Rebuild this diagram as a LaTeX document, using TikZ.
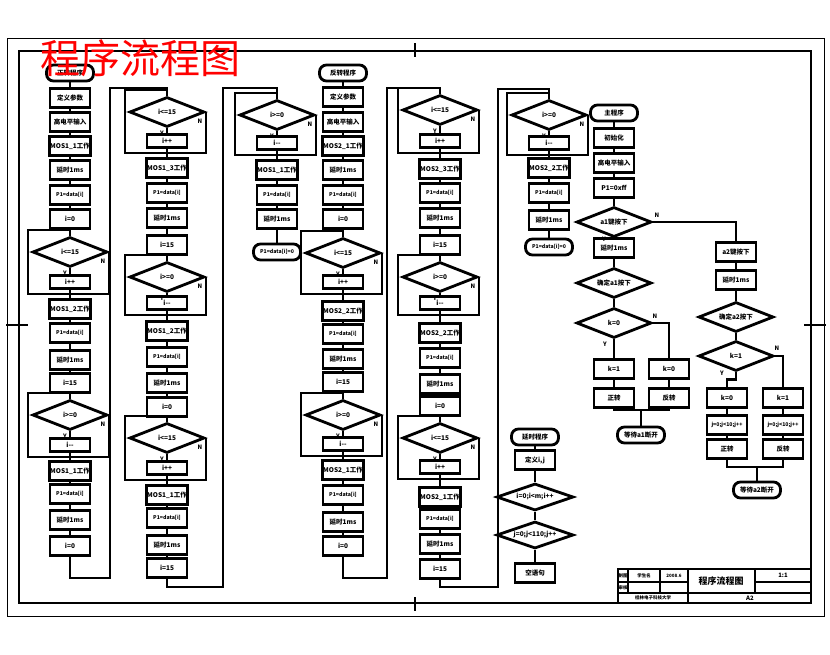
\documentclass[tikz,border=0pt]{standalone}
\usepackage{fontspec}
\setmainfont{Noto Sans CJK SC}
\usetikzlibrary{shapes.geometric}
\newcommand\bxf{\fontsize{6.5}{7}\selectfont\bfseries}
\newcommand\smf{\fontsize{5.2}{6}\selectfont\bfseries}
\newcommand\lbf{\fontsize{6}{6}\selectfont\bfseries}
\newcommand\tbf{\fontsize{4.5}{5}\selectfont\bfseries}
\tikzset{
 bx/.style={rectangle,draw,line width=2.8pt,minimum width=40pt,minimum height=19pt,inner sep=1pt,font=\bxf},
 sbx/.style={bx,minimum height=13pt},
 dia/.style={diamond,draw,line width=2.8pt,minimum width=75pt,minimum height=30pt,aspect=2.5,inner sep=0pt,font=\bxf},
 term/.style={rectangle,rounded corners=7pt,draw,line width=2.8pt,minimum width=47pt,minimum height=16pt,inner sep=1pt,font=\bxf},
 ln/.style={line width=2.2pt},
 lbl/.style={font=\lbf,inner sep=0pt},
 tb/.style={font=\tbf,inner sep=0pt},
}
\newcommand\mkloop[3]{%
 \draw[ln] (#1)--(#2)--(#3);
 \coordinate (#1j) at ([yshift=-4pt]#2.south);
 \draw[ln] (#1j) -| ([xshift=-3pt]#1.west) |- ([yshift=6pt]#1.north) -- (#1.north);
 \draw[ln] (#1.east) |- (#1j);
 \node[lbl] (#1y) at ([xshift=-5pt,yshift=-5pt]#1.south) {Y};
 \node[lbl] (#1n) at ([xshift=-6pt,yshift=-9pt]#1.east) {N};
}
\begin{document}
\begin{tikzpicture}[x=1pt,y=-1pt]
\useasboundingbox (0,0) rectangle (830,654);
% frame
\draw[line width=0.8pt] (7,38) rectangle (824,616);
\draw[line width=2.8pt] (19,51) rectangle (811,603);
\draw[line width=2.8pt] (415,43)--(415,57) (415,597)--(415,611) (6,325)--(28,325) (804,325)--(826,325);

% ---------- column 1 ----------
\node[term] (t1) at (70,73) {正转程序};
\node[bx] (a1) at (70,98) {定义参数};
\node[bx] (a2) at (70,122) {高电平输入};
\node[bx] (a3) at (70,146) {MOS1\_1工作};
\node[bx] (a4) at (70,170) {延时1ms};
\node[bx,font=\smf] (a5) at (70,195) {P1=data[i]};
\node[bx] (a6) at (70,219) {i=0};
\node[dia] (d1) at (70,252) {i<=15};
\node[sbx] (a7) at (70,282) {i++};
\node[bx] (a8) at (70,309) {MOS1\_2工作};
\node[bx,font=\smf] (a9) at (70,333) {P1=data[i]};
\node[bx] (a10) at (70,360) {延时1ms};
\node[bx] (a11) at (70,383) {i=15};
\node[dia] (d2) at (70,415) {i>=0};
\node[sbx] (a12) at (70,445) {i-{}-};
\node[bx] (a13) at (70,471) {MOS1\_1工作};
\node[bx,font=\smf] (a14) at (70,494) {P1=data[i]};
\node[bx] (a15) at (70,520) {延时1ms};
\node[bx] (a16) at (70,546) {i=0};
\draw[ln] (t1)--(a1)--(a2)--(a3)--(a4)--(a5)--(a6)--(d1);
\mkloop{d1}{a7}{a8}
\draw[ln] (a8)--(a9)--(a10)--(a11)--(d2);
\mkloop{d2}{a12}{a13}
\draw[ln] (a13)--(a14)--(a15)--(a16);

% ---------- column 2 ----------
\node[dia] (d3) at (167,112) {i<=15};
\node[sbx] (b1) at (167,141) {i++};
\node[bx] (b2) at (167,168) {MOS1\_3工作};
\node[bx,font=\smf] (b3) at (167,193) {P1=data[i]};
\node[bx] (b4) at (167,218) {延时1ms};
\node[bx] (b5) at (167,245) {i=15};
\node[dia] (d4) at (167,277) {i>=0};
\node[sbx] (b6) at (167,303) {i-{}-};
\node[bx] (b7) at (167,331) {MOS1\_2工作};
\node[bx,font=\smf] (b8) at (167,357) {P1=data[i]};
\node[bx] (b9) at (167,383) {延时1ms};
\node[bx] (b10) at (167,407) {i=0};
\node[dia] (d5) at (167,438) {i<=15};
\node[sbx] (b11) at (167,468) {i++};
\node[bx] (b12) at (167,495) {MOS1\_1工作};
\node[bx,font=\smf] (b13) at (167,518) {P1=data[i]};
\node[bx] (b14) at (167,545) {延时1ms};
\node[bx] (b15) at (167,568) {i=15};
\mkloop{d3}{b1}{b2}
\draw[ln] (b2)--(b3)--(b4)--(b5)--(d4);
\mkloop{d4}{b6}{b7}
\draw[ln] (b7)--(b8)--(b9)--(b10)--(d5);
\mkloop{d5}{b11}{b12}
\draw[ln] (b12)--(b13)--(b14)--(b15);
\coordinate (T1b) at (110,578); \coordinate (T1t) at (110,88);
\draw[ln] (a16.south) |- (T1b) -- (T1t) -| (d3.north);

% ---------- column 3 ----------
\node[dia] (d6) at (277,115) {i>=0};
\node[sbx] (c1) at (277,143) {i-{}-};
\node[bx] (c2) at (277,170) {MOS1\_1工作};
\node[bx,font=\smf] (c3) at (277,195) {P1=data[i]};
\node[bx] (c4) at (277,219) {延时1ms};
\node[term,font=\smf] (c5) at (277,252) {P1=data[i]=0};
\mkloop{d6}{c1}{c2}
\draw[ln] (c2)--(c3)--(c4)--(c5);
\coordinate (T2b) at (223,587); \coordinate (T2t) at (223,88);
\draw[ln] (b15.south) |- (T2b) -- (T2t) -| (d6.north);

% ---------- column 4 ----------
\node[term] (t2) at (343,73) {反转程序};
\node[bx] (e1) at (343,97) {定义参数};
\node[bx] (e2) at (343,122) {高电平输入};
\node[bx] (e3) at (343,146) {MOS2\_1工作};
\node[bx] (e4) at (343,170) {延时1ms};
\node[bx,font=\smf] (e5) at (343,195) {P1=data[i]};
\node[bx] (e6) at (343,219) {i=0};
\node[dia] (d7) at (343,253) {i<=15};
\node[sbx] (e7) at (343,282) {i++};
\node[bx] (e8) at (343,311) {MOS2\_2工作};
\node[bx,font=\smf] (e9) at (343,334) {P1=data[i]};
\node[bx] (e10) at (343,359) {延时1ms};
\node[bx] (e11) at (343,382) {i=15};
\node[dia] (d8) at (343,415) {i>=0};
\node[sbx] (e12) at (343,444) {i-{}-};
\node[bx] (e13) at (343,470) {MOS2\_1工作};
\node[bx,font=\smf] (e14) at (343,495) {P1=data[i]};
\node[bx] (e15) at (343,522) {延时1ms};
\node[bx] (e16) at (343,546) {i=0};
\draw[ln] (t2)--(e1)--(e2)--(e3)--(e4)--(e5)--(e6)--(d7);
\mkloop{d7}{e7}{e8}
\draw[ln] (e8)--(e9)--(e10)--(e11)--(d8);
\mkloop{d8}{e12}{e13}
\draw[ln] (e13)--(e14)--(e15)--(e16);

% ---------- column 5 ----------
\node[dia] (d9) at (440,110) {i<=15};
\node[sbx] (f1) at (440,141) {i++};
\node[bx] (f2) at (440,169) {MOS2\_3工作};
\node[bx,font=\smf] (f3) at (440,193) {P1=data[i]};
\node[bx] (f4) at (440,218) {延时1ms};
\node[bx] (f5) at (440,245) {i=15};
\node[dia] (d10) at (440,277) {i>=0};
\node[sbx] (f6) at (440,303) {i-{}-};
\node[bx] (f7) at (440,333) {MOS2\_2工作};
\node[bx,font=\smf] (f8) at (440,358) {P1=data[i]};
\node[bx] (f9) at (440,384) {延时1ms};
\node[bx] (f10) at (440,406) {i=0};
\node[dia] (d11) at (440,438) {i<=15};
\node[sbx] (f11) at (440,467) {i++};
\node[bx] (f12) at (440,497) {MOS2\_1工作};
\node[bx,font=\smf] (f13) at (440,519) {P1=data[i]};
\node[bx] (f14) at (440,544) {延时1ms};
\node[bx] (f15) at (440,569) {i=15};
\mkloop{d9}{f1}{f2}
\draw[ln] (f2)--(f3)--(f4)--(f5)--(d10);
\mkloop{d10}{f6}{f7}
\draw[ln] (f7)--(f8)--(f9)--(f10)--(d11);
\mkloop{d11}{f11}{f12}
\draw[ln] (f12)--(f13)--(f14)--(f15);
\coordinate (T3b) at (387,578); \coordinate (T3t) at (387,88);
\draw[ln] (e16.south) |- (T3b) -- (T3t) -| (d9.north);

% ---------- column 6 ----------
\node[dia] (d12) at (549,115) {i>=0};
\node[sbx] (g1) at (549,143) {i-{}-};
\node[bx] (g2) at (549,168) {MOS2\_2工作};
\node[bx,font=\smf] (g3) at (549,193) {P1=data[i]};
\node[bx] (g4) at (549,220) {延时1ms};
\node[term,font=\smf] (g5) at (549,247) {P1=data[i]=0};
\mkloop{d12}{g1}{g2}
\draw[ln] (g2)--(g3)--(g4)--(g5);
\coordinate (T4b) at (498,587); \coordinate (T4t) at (498,89);
\draw[ln] (f15.south) |- (T4b) -- (T4t) -| (d12.north);

% ---------- delay program ----------
\node[term] (h0) at (535,437) {延时程序};
\node[bx] (h1) at (535,460) {定义i,j};
\node[dia,minimum width=77pt,minimum height=27pt] (hd1) at (535,497) {i=0;i<m;i++};
\node[dia,minimum width=77pt,minimum height=27pt] (hd2) at (535,535) {j=0;j<110;j++};
\node[bx] (h2) at (535,573) {空语句};
\draw[ln] (h0)--(h1)--(hd1)--(hd2)--(h2);

% ---------- main program ----------
\node[term] (m0) at (614,113) {主程序};
\node[bx] (m1) at (614,138) {初始化};
\node[bx] (m2) at (614,163) {高电平输入};
\node[bx] (m3) at (614,188) {P1=0xff};
\node[dia] (md1) at (614,222) {a1键按下};
\node[bx] (m4) at (614,248) {延时1ms};
\node[dia] (md2) at (614,283) {确定a1按下};
\node[dia] (md3) at (614,323) {k=0};
\node[bx] (m5) at (614,369) {k=1};
\node[bx] (m6) at (669,369) {k=0};
\node[bx] (m7) at (614,398) {正转};
\node[bx] (m8) at (669,398) {反转};
\coordinate (mj) at (641,410);
\node[term] (m9) at (641,435) {等待a1断开};
\draw[ln] (m0)--(m1)--(m2)--(m3)--(md1)--(m4)--(md2)--(md3)--(m5)--(m7);
\draw[ln] (md3.east) -| (m6.north);
\draw[ln] (m6)--(m8);
\draw[ln] (m7.south) |- (mj);
\draw[ln] (m8.south) |- (mj);
\draw[ln] (mj) -- (m9.north);
\node[lbl] (md1n) at (657,215) {N};
\node[lbl] (md1y) at (604,239) {Y};
\node[lbl] (md3n) at (655,316) {N};
\node[lbl] (md3y) at (605,344) {Y};

\node[bx] (r1) at (736,252) {a2键按下};
\node[bx] (r2) at (736,280) {延时1ms};
\node[dia] (rd1) at (736,317) {确定a2按下};
\node[dia] (rd2) at (736,356) {k=1};
\node[bx] (r3) at (727,398) {k=0};
\node[bx] (r4) at (783,398) {k=1};
\node[bx,font=\smf] (r5) at (727,425) {j=0;j<10;j++};
\node[bx,font=\smf] (r6) at (783,425) {j=0;j<10;j++};
\node[bx] (r7) at (727,449) {正转};
\node[bx] (r8) at (783,449) {反转};
\coordinate (rj) at (757,467);
\node[term] (r9) at (757,490) {等待a2断开};
\draw[ln] (md1.east) -| (r1.north);
\draw[ln] (r1)--(r2)--(rd1)--(rd2);
\coordinate (rk) at ([yshift=-7pt]rd2.south);
\draw[ln] (rd2.south) -- (rk) -| (r3.north);
\draw[ln] (rd2.east) -| (r4.north);
\draw[ln] (r3)--(r5)--(r7);
\draw[ln] (r4)--(r6)--(r8);
\draw[ln] (r7.south) |- (rj);
\draw[ln] (r8.south) |- (rj);
\draw[ln] (rj) -- (r9.north);
\node[lbl] (rd2y) at (722,373) {Y};
\node[lbl] (rd2n) at (777,348) {N};

% ---------- title block ----------
\draw[line width=1.6pt] (618,603) -- (618,569) -- (811,569);
\draw[line width=1.6pt] (618,582) -- (688,582) (618,593) -- (811,593) (755,582) -- (811,582);
\draw[line width=1.6pt] (628,569) -- (628,593) (660,569) -- (660,593) (688,569) -- (688,603) (755,569) -- (755,593);
\node[tb] (tb1) at (623,575.5) {制图};
\node[tb] (tb2) at (644,575.5) {学生名};
\node[tb] (tb3) at (674,575.5) {2008.6};
\node[tb] (tb4) at (623,587.5) {审核};
\node[tb] (tb5) at (653,598) {桂林电子科技大学};
\node[font=\fontsize{9}{10}\selectfont\bfseries,inner sep=0pt] (tb6) at (721,581) {程序流程图};
\node[tb,font=\fontsize{6}{6}\selectfont\bfseries] (tb7) at (783,575.5) {1:1};
\node[tb,font=\fontsize{6}{6}\selectfont\bfseries] (tb8) at (750,598) {A2};

% ---------- red title ----------
\node[text=red,font=\fontsize{40}{42}\selectfont,inner sep=0pt] (ttl) at (140,58) {程序流程图};
\end{tikzpicture}
\end{document}
